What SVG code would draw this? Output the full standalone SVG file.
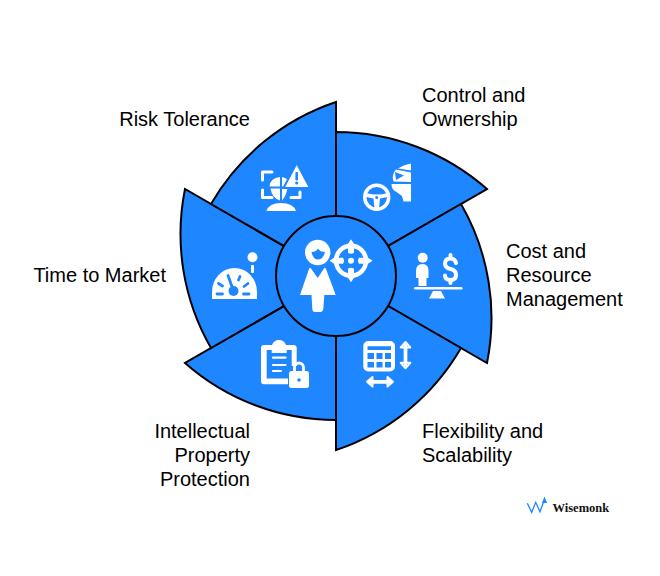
<svg xmlns="http://www.w3.org/2000/svg" width="660" height="576" viewBox="0 0 660 576">
<style>
.seg{fill:#1e86ff;stroke:#000;stroke-width:2;stroke-linejoin:miter}
.lbl{font-family:"Liberation Sans",Arial,sans-serif;font-size:20px;fill:#000}
.w{fill:#fff}
.b{fill:#1e86ff}
.wl{fill:none;stroke:#fff;stroke-linecap:round;stroke-linejoin:round}
.bl{fill:none;stroke:#1e86ff;stroke-linecap:round}
</style>
<defs><path id="tip" class="w" d="M0 -21.500L3 -17L3 -8Q0 -6 -3 -8L-3 -17Z"/></defs>
<rect width="660" height="576" fill="#fff"/>
<g id="connectors"></g>
<g id="node-control"><path class="seg" d="M336 132A228 228 0 0 1 487 189L336 276Z"/></g>
<g id="node-cost"><path class="seg" d="M461 204A228 228 0 0 1 487 363L336 276Z"/></g>
<g id="node-flex"><path class="seg" d="M461 348A228 228 0 0 1 336 450L336 276Z"/></g>
<g id="node-ip"><path class="seg" d="M336 420A228 228 0 0 1 185 363L336 276Z"/></g>
<g id="node-time"><path class="seg" d="M211 348A228 228 0 0 1 185 189L336 276Z"/></g>
<g id="node-risk"><path class="seg" d="M211 204A228 228 0 0 1 336 102L336 276Z"/></g>
<g id="node-center"><circle class="seg" cx="336" cy="276" r="60"/>
<circle class="w" cx="317.700" cy="252.500" r="12.700"/><path class="b" d="M311.500 252Q316 252 318 248.500Q320 252 325 252Q323 259.500 318 259.500Q313 259.500 311.500 252Z"/>
<path class="w" d="M309 269Q310 267 311 268.500L317.700 278L324 268.500Q325 267 326 269L335.700 295H324.300L323.300 309Q323 312 320 312H315Q312.500 312 312.300 309L311.500 295H300Z"/>
<circle class="wl" cx="351" cy="260.700" r="15" stroke-width="4.500"/>
<use href="#tip" transform="translate(351 260.700)"/><use href="#tip" transform="translate(351 260.700) rotate(90)"/><use href="#tip" transform="translate(351 260.700) rotate(180)"/><use href="#tip" transform="translate(351 260.700) rotate(270)"/>
<circle class="w" cx="351" cy="260.700" r="3"/>
</g>
<g id="icon-risk"><path class="wl" stroke-width="3" d="M272 172H262.500V180M262.500 190V197.500H272M300 192V197.500H291"/>
<path class="w" d="M280 177V186.500H269.500Q270 178 280 177ZM282 177V186.500H286.500L289 181Q286 177.500 282 177ZM270.500 188.500H280V200.500Q272 198 270.500 188.500ZM282 188.500H287.500Q286 196 282 200.500Z"/>
<path class="w" stroke="#1e86ff" stroke-width="2" d="M296.700 163L310 188H283.500Z"/><rect x="295.400" y="172" width="2.600" height="8.500" rx="1" class="b"/><circle cx="296.700" cy="183" r="1.600" class="b"/>
<path class="w" d="M266.500 211Q269 203 281 203Q293 203 296 211Z"/></g>
<g id="icon-control"><circle class="wl" cx="376.700" cy="197.200" r="12" stroke-width="3.500"/><path class="w" d="M366 193Q377 196 387.500 193V197L380 198.500L379 208H374.500L373.500 198.500L366 197Z"/><circle class="b" cx="376.700" cy="197.500" r="1.500"/>
<path class="w" d="M411 163.500V170.500L398 168.500Q403 165 411 163.500ZM396 169.500L411 172.500V182L393.500 181.500Q391 175 396 169.500ZM391.500 184H411V201.500H403.500L402 196L396.500 192Q391.500 190 391.500 184Z"/>
<path class="b" d="M395 172L404 175.500L396 180Z"/></g>
<g id="icon-cost"><circle class="w" cx="422.700" cy="257.700" r="5"/><path class="w" d="M416 271Q416 264 422.500 264Q428.500 264 428.500 271V278H426.500V286H418.500V278H416Z"/>
<rect class="w" x="414" y="287" width="48.500" height="2.600" rx="1.300"/><path class="w" d="M429 298.500L433 291H441L445 298.500Z"/>
<path class="wl" stroke-width="4" d="M456 263Q455 258.500 450.500 258.500Q445 258.500 445 263.500Q445 268 450.500 269Q456 270 456 275Q456 280 450.500 280Q445 280 445 275.500M450.500 255V258M450.500 280V283"/></g>
<g id="icon-flex"><rect class="w" x="363.300" y="341" width="31.700" height="30.500" rx="5"/>
<path class="b" d="M367.500 346.200H391V350H367.500ZM367.500 353H374V359H367.500ZM376.500 353H382.500V359H376.500ZM385 353H391V359H385ZM367.500 362H374V367.500H367.500ZM376.500 362H382.500V367.500H376.500ZM385 362H391V367.500H385Z"/>
<path class="wl" stroke-width="3.700" d="M405.500 345V365"/><path class="wl" stroke-width="2" fill="#fff" d="M405.500 342L410.300 347.500H400.700ZM405.500 368.300L410.300 362.800H400.700Z"/>
<path class="wl" stroke-width="3.700" d="M370 381.800H390"/><path class="wl" stroke-width="2" fill="#fff" d="M367 381.800L372.500 377V386.600ZM393 381.800L387.500 377V386.600Z"/></g>
<g id="icon-ip"><path class="w" d="M264 345H272Q274 340 279 340Q284 340 286 345H293.500Q296.700 345 296.700 348V366H291.700V350H286.700V353H271.700V350H266.700V378.500H288V384.300H264Q261 384.300 261 381.300V348Q261 345 264 345Z"/>
<path class="wl" stroke-width="2.200" d="M273 357.700H285.500M273 365H285.500M273 371H281"/>
<path class="wl" stroke-width="2.800" d="M294.500 372V367.500A4.500 4.500 0 0 1 303.500 367.500V372"/><rect class="w" x="289" y="371" width="20" height="17" rx="2.500"/><circle cx="299" cy="380" r="1.800" class="b"/></g>
<g id="icon-time"><circle class="w" cx="252.500" cy="257.300" r="5"/><rect class="w" x="251" y="265" width="3" height="8" rx="1"/>
<path class="w" d="M212 299V292A22.500 24 0 0 1 257 292V299Z"/>
<path class="bl" stroke-width="2.800" d="M217 294H222.500M218.500 283.500L222.500 286M240 276.500L238.500 280M248 283.500L244 286.500M249 294H243.500"/>
<path class="bl" stroke-width="2.800" d="M228 275.500L232.500 288"/><circle cx="233.500" cy="291" r="5" class="b"/></g>
<text class="lbl" x="422" y="102">Control and</text><text class="lbl" x="422" y="126">Ownership</text>
<text class="lbl" x="250" y="126" text-anchor="end">Risk Tolerance</text>
<text class="lbl" x="506" y="258">Cost and</text><text class="lbl" x="506" y="282">Resource</text><text class="lbl" x="506" y="306">Management</text>
<text class="lbl" x="166" y="282" text-anchor="end">Time to Market</text>
<text class="lbl" x="422" y="438">Flexibility and</text><text class="lbl" x="422" y="462">Scalability</text>
<text class="lbl" x="250" y="438" text-anchor="end">Intellectual</text><text class="lbl" x="250" y="462" text-anchor="end">Property</text><text class="lbl" x="250" y="486" text-anchor="end">Protection</text>
<g id="logo"><path fill="none" stroke="#1e86ff" stroke-width="1.300" d="M527.300 503.300L531.700 512.300L535.700 502.300L540 511.700L544.300 500"/><path class="b" d="M544.500 496.500L547 503H542Z"/>
<text x="552.500" y="511.500" font-family="Liberation Serif,serif" font-size="12.500" font-weight="700" fill="#111">Wisemonk</text></g>
</svg>
